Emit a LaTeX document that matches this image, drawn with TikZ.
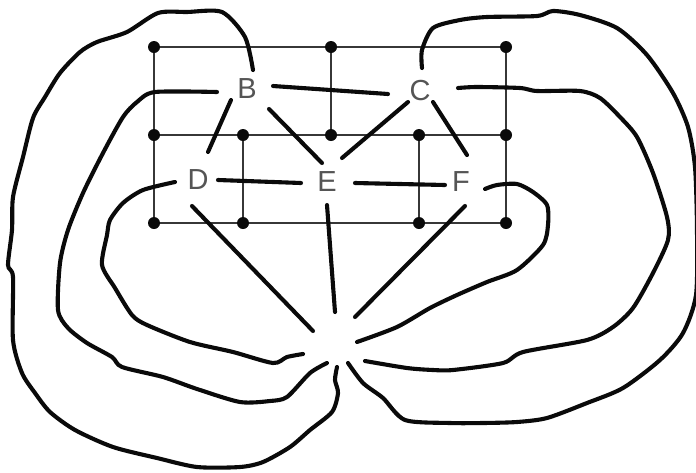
\documentclass[tikz,border=0pt]{standalone}
\usepackage{fontspec}
\setmainfont{Liberation Sans}
\definecolor{Ink}{RGB}{10,10,10}
\definecolor{Rule}{RGB}{55,55,55}
\definecolor{Letter}{RGB}{85,85,85}
\tikzset{
  dot/.style={circle,fill=Ink,minimum size=12pt,inner sep=0pt},
  region/.style={circle,inner sep=0pt,minimum size=36pt,text=Letter,font=\fontsize{29}{29}\selectfont},
  grid line/.style={draw=Rule,line width=1.6pt},
  wire/.style={draw=Ink,line width=4.1pt,line cap=round,line join=round},
  curve/.style={wire,smooth,tension=0.45}
}
\begin{document}
\begin{tikzpicture}[x=1pt,y=-1pt]
\useasboundingbox (0,0) rectangle (696,472);
\foreach \name/\px/\py in {a1/154/47,a2/331/47,a3/506/47,b1/154/135,b2/243/135,b3/331/135,b4/419/135,b5/506/135,c1/154/223,c2/243/223,c3/419/223,c4/506/223}
  \node[dot] (\name) at (\px,\py) {};
\draw[grid line] (a1)--(a2);
\draw[grid line] (a2)--(a3);
\draw[grid line] (b1)--(b2);
\draw[grid line] (b2)--(b3);
\draw[grid line] (b3)--(b4);
\draw[grid line] (b4)--(b5);
\draw[grid line] (c1)--(c2);
\draw[grid line] (c2)--(c3);
\draw[grid line] (c3)--(c4);
\draw[grid line] (a1)--(b1);
\draw[grid line] (b1)--(c1);
\draw[grid line] (a2)--(b3);
\draw[grid line] (a3)--(b5);
\draw[grid line] (b5)--(c4);
\draw[grid line] (b2)--(c2);
\draw[grid line] (b4)--(c3);
\node[region] (B) at (247,89) {B};
\node[region] (C) at (420,91) {C};
\node[region] (D) at (198,180) {D};
\node[region] (E) at (327,182) {E};
\node[region] (F) at (461,182) {F};
\node[circle,minimum size=40pt,inner sep=0pt] (hub) at (335,340) {};
% straight edges
\draw[wire] ([shift={(26,-3)}]B.center) -- ([shift={(-32,3)}]C.center);
\draw[wire] ([shift={(-16,11)}]B.center) -- ([shift={(10,-28)}]D.center);
\draw[wire] ([shift={(22,20)}]B.center) -- ([shift={(-5,-19)}]E.center);
\draw[wire] ([shift={(-12,11)}]C.center) -- ([shift={(15,-24)}]E.center);
\draw[wire] ([shift={(13,11)}]C.center) -- ([shift={(6,-27)}]F.center);
\draw[wire] ([shift={(20,0)}]D.center) -- ([shift={(-26,1)}]E.center);
\draw[wire] ([shift={(28,1)}]E.center) -- ([shift={(-16,3)}]F.center);
\draw[wire] ([shift={(-6,26)}]D.center) -- ([shift={(-22,-9)}]hub.center);
\draw[wire] ([shift={(0,23)}]E.center) -- ([shift={(0,-28)}]hub.center);
\draw[wire] ([shift={(4,24)}]F.center) -- ([shift={(20,-23)}]hub.center);
% left side
\draw[curve] plot coordinates {([shift={(6,-19)}]B.center) (245,37) (222,12) (187,12) (158,13) (127,32) (97,42) (80,52) (60,73) (45,97) (33,118) (23,157) (13,197) (12,230) (8,265) (13,277) (13,340) (22,373) (35,393) (50,412) (75,430) (113,447) (157,458) (197,467) (240,467) (263,462) (290,447) (310,430) (332,412) (338,393) (335,380) ([shift={(2,27)}]hub.center)};
\draw[curve] plot coordinates {([shift={(-30,3)}]B.center) (155,92) (137,102) (123,117) (103,153) (83,193) (68,230) (60,263) (58,310) (68,328) (87,343) (112,357) (122,367) (163,377) (197,389) (240,402) (270,401) (287,397) (310,373) ([shift={(-8,23)}]hub.center)};
\draw[curve] plot coordinates {([shift={(-23,2)}]D.center) (143,190) (123,203) (110,220) (107,235) (102,265) (115,288) (132,315) (147,325) (190,342) (233,352) (273,363) (287,357) ([shift={(-32,14)}]hub.center)};
% right side
\draw[curve] plot coordinates {([shift={(2,-23)}]C.center) (422,50) (433,28) (460,20) (487,17) (537,16) (553,11) (580,15) (617,28) (647,55) (673,93) (688,127) (695,167) (697,230) (696,295) (683,333) (660,360) (623,388) (587,403) (547,418) (517,422) (483,423) (450,423) (405,420) (383,398) (363,383) ([shift={(13,23)}]hub.center)};
\draw[curve] plot coordinates {([shift={(38,-3)}]C.center) (477,87) (520,88) (537,91) (580,91) (600,98) (620,117) (637,137) (653,173) (667,217) (668,240) (653,273) (633,308) (613,327) (587,340) (523,352) (503,363) (453,370) (433,370) (407,368) ([shift={(30,21)}]hub.center)};
\draw[curve] plot coordinates {([shift={(24,7)}]F.center) (497,185) (517,184) (533,192) (547,205) (548,225) (543,245) (517,270) (487,282) (457,295) (430,308) (397,327) ([shift={(22,2)}]hub.center)};
\end{tikzpicture}
\end{document}
